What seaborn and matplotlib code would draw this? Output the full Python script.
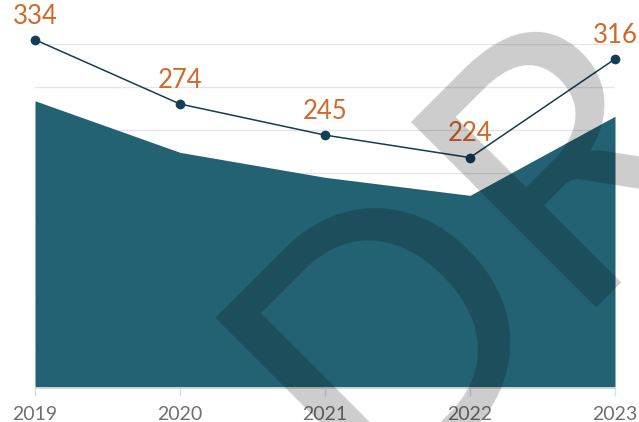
import matplotlib
matplotlib.use("Agg")
import matplotlib.pyplot as plt
import seaborn as sns
import pandas as pd

# chart data
years = [2019, 2020, 2021, 2022, 2023]
values = [334, 274, 245, 224, 316]
tick_labels = ["2019", "2020", "2021", "2022", "2023"]

df = pd.DataFrame({"year": years, "value": values})

sns.set_theme(style="white")
plt.rcParams["font.family"] = ["Lato", "DejaVu Sans"]

fig = plt.figure(figsize=(6.39, 4.22), dpi=100)
ax = fig.add_axes([35 / 639, 1 - 388 / 422, 580 / 639, 344 / 422])

# area
ax.fill_between(df["year"], df["value"], 0, color="#236272", lw=0, zorder=2)
ax.set_xlim(2019, 2023)
ax.set_ylim(0, 400)
ax.set_yticks(range(0, 401, 50))
ax.yaxis.grid(True, color="#e6e6e6", lw=1)
ax.set_axisbelow(True)
ax.set_xticks(years)
ax.set_xticklabels(tick_labels, color="#707070", fontsize=14)
ax.tick_params(axis="x", bottom=True, length=6, width=1, color="#dddddd", pad=7)
for s in ["top", "right", "left"]:
    ax.spines[s].set_visible(False)
ax.spines["bottom"].set_color("#e0e0e0")
ax.set_xlabel("")
ax.set_ylabel("")

# line on its own scale
ax2 = ax.twinx()
sns.lineplot(data=df, x="year", y="value", ax=ax2, color="#143d57", lw=1.1,
             marker="o", markersize=7, markeredgewidth=0, clip_on=False)
ax2.set_ylim(9, 330)
ax2.set_xlim(2019, 2023)
ax2.axis("off")
ax.tick_params(axis="y", left=False, right=False, labelleft=False)
for x, v in zip(years, values):
    ax2.annotate(str(v), (x, v), xytext=(0, 8), textcoords="offset points",
                 ha="center", va="bottom", fontsize=18.5, color="#d0692a",
                 annotation_clip=False)

# watermark
fig.text(368 / 639, 1 - 503 / 422, "DRAFT", rotation=45, rotation_mode="anchor",
         ha="left", va="baseline", fontsize=263, family="Lato",
         color="black", alpha=0.2, zorder=10)

fig.savefig("out.png", dpi=100)
